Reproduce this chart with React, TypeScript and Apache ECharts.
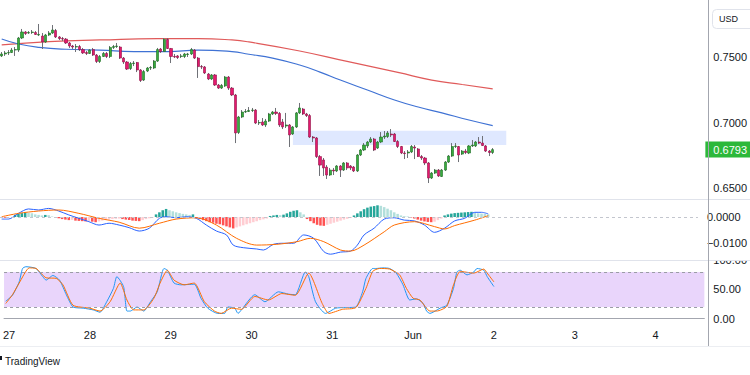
import React, { useEffect, useRef } from 'react';
import * as echarts from 'echarts';

// ---------- data ----------
const dayLabels = ['27', '28', '29', '30', '31', 'Jun', '2', '3', '4'];
const firstDaySlot = 1;
const hoursPerDay = 24;
const totalSlots = 208;

const opens = [
  0.7508,0.7523,0.7531,0.7534,0.7553,0.7553,0.7645,0.7691,0.7683,0.7687,
  0.7687,0.7668,0.7660,0.7615,0.7668,0.7683,0.7702,0.7653,0.7641,0.7637,
  0.7607,0.7584,0.7576,0.7580,0.7557,0.7534,0.7527,0.7557,0.7515,0.7466,
  0.7504,0.7527,0.7504,0.7573,0.7580,0.7576,0.7492,0.7462,0.7412,0.7450,
  0.7458,0.7401,0.7324,0.7393,0.7416,0.7416,0.7469,0.7561,0.7542,0.7634,
  0.7565,0.7504,0.7508,0.7504,0.7504,0.7519,0.7523,0.7553,0.7492,0.7427,
  0.7424,0.7370,0.7332,0.7363,0.7286,0.7263,0.7279,0.7347,0.7263,0.7210,
  0.6924,0.7042,0.7080,0.7084,0.7092,0.7095,0.6996,0.7004,0.6981,0.7011,
  0.7065,0.7080,0.7069,0.7004,0.6973,0.6981,0.6912,0.6966,0.7073,0.7103,
  0.7065,0.7053,0.6889,0.6882,0.6740,0.6714,0.6660,0.6599,0.6637,0.6630,
  0.6668,0.6637,0.6691,0.6668,0.6660,0.6630,0.6752,0.6790,0.6821,0.6851,
  0.6874,0.6805,0.6851,0.6889,0.6893,0.6912,0.6912,0.6855,0.6817,0.6767,
  0.6767,0.6775,0.6813,0.6798,0.6740,0.6729,0.6691,0.6576,0.6614,0.6637,
  0.6588,0.6637,0.6698,0.6744,0.6817,0.6817,0.6759,0.6782,0.6767,0.6821,
  0.6821,0.6851,0.6843,0.6821,0.6782,0.6771,
];
const closes = [
  0.7523,0.7531,0.7534,0.7553,0.7557,0.7645,0.7691,0.7679,0.7687,0.7691,
  0.7672,0.7672,0.7615,0.7668,0.7683,0.7706,0.7653,0.7641,0.7637,0.7607,
  0.7584,0.7576,0.7580,0.7557,0.7531,0.7527,0.7553,0.7515,0.7466,0.7504,
  0.7527,0.7504,0.7573,0.7580,0.7584,0.7492,0.7462,0.7408,0.7450,0.7454,
  0.7401,0.7321,0.7389,0.7416,0.7420,0.7469,0.7557,0.7542,0.7634,0.7565,
  0.7504,0.7500,0.7496,0.7508,0.7523,0.7523,0.7557,0.7492,0.7427,0.7424,
  0.7378,0.7332,0.7363,0.7286,0.7263,0.7283,0.7347,0.7263,0.7210,0.6920,
  0.7042,0.7080,0.7084,0.7092,0.7095,0.6996,0.7000,0.6981,0.7011,0.7065,
  0.7080,0.7069,0.6981,0.6966,0.6981,0.6905,0.6966,0.7073,0.7111,0.7065,
  0.7053,0.6889,0.6882,0.6740,0.6675,0.6653,0.6599,0.6637,0.6630,0.6668,
  0.6637,0.6691,0.6653,0.6653,0.6630,0.6752,0.6790,0.6828,0.6851,0.6874,
  0.6790,0.6851,0.6889,0.6897,0.6920,0.6905,0.6855,0.6817,0.6767,0.6763,
  0.6775,0.6817,0.6805,0.6740,0.6729,0.6691,0.6576,0.6614,0.6637,0.6592,
  0.6637,0.6698,0.6744,0.6817,0.6821,0.6752,0.6782,0.6771,0.6821,0.6828,
  0.6851,0.6843,0.6824,0.6782,0.6771,0.6793,
];
const highs = [
  0.7538,0.7546,0.7553,0.7569,0.7576,0.7653,0.7714,0.7698,0.7698,0.7706,
  0.7698,0.7752,0.7683,0.7676,0.7698,0.7744,0.7714,0.7660,0.7653,0.7645,
  0.7615,0.7592,0.7599,0.7592,0.7569,0.7546,0.7561,0.7569,0.7523,0.7515,
  0.7538,0.7538,0.7584,0.7592,0.7607,0.7584,0.7500,0.7469,0.7462,0.7469,
  0.7462,0.7408,0.7401,0.7424,0.7431,0.7477,0.7569,0.7569,0.7645,0.7645,
  0.7569,0.7523,0.7515,0.7523,0.7531,0.7531,0.7569,0.7561,0.7500,0.7439,
  0.7431,0.7378,0.7370,0.7370,0.7294,0.7294,0.7355,0.7355,0.7271,0.7218,
  0.7050,0.7095,0.7103,0.7118,0.7111,0.7103,0.7019,0.7034,0.7027,0.7073,
  0.7088,0.7111,0.7080,0.7027,0.7073,0.6988,0.6973,0.7080,0.7149,0.7111,
  0.7073,0.7065,0.6897,0.6889,0.6752,0.6729,0.6675,0.6653,0.6653,0.6675,
  0.6675,0.6698,0.6698,0.6675,0.6668,0.6759,0.6798,0.6843,0.6859,0.6889,
  0.6882,0.6859,0.6927,0.6935,0.6935,0.6950,0.6920,0.6866,0.6821,0.6782,
  0.6790,0.6828,0.6828,0.6805,0.6752,0.6737,0.6698,0.6622,0.6645,0.6645,
  0.6645,0.6706,0.6752,0.6843,0.6843,0.6821,0.6790,0.6798,0.6828,0.6866,
  0.6859,0.6889,0.6897,0.6828,0.6790,0.6805,
];
const lows = [
  0.7500,0.7508,0.7515,0.7531,0.7508,0.7538,0.7637,0.7668,0.7676,0.7676,
  0.7668,0.7660,0.7561,0.7607,0.7660,0.7676,0.7645,0.7630,0.7622,0.7599,
  0.7569,0.7561,0.7538,0.7546,0.7523,0.7515,0.7523,0.7508,0.7454,0.7454,
  0.7500,0.7492,0.7492,0.7561,0.7569,0.7485,0.7447,0.7401,0.7401,0.7431,
  0.7385,0.7309,0.7317,0.7385,0.7401,0.7408,0.7462,0.7531,0.7538,0.7561,
  0.7454,0.7492,0.7485,0.7492,0.7492,0.7500,0.7515,0.7485,0.7340,0.7408,
  0.7370,0.7324,0.7324,0.7279,0.7256,0.7256,0.7271,0.7248,0.7202,0.6843,
  0.6912,0.7034,0.7073,0.7080,0.7080,0.6988,0.6981,0.6973,0.6966,0.7004,
  0.7057,0.7057,0.6966,0.6950,0.6958,0.6813,0.6905,0.6958,0.7065,0.7057,
  0.7042,0.6882,0.6851,0.6729,0.6592,0.6592,0.6569,0.6592,0.6599,0.6622,
  0.6584,0.6630,0.6637,0.6637,0.6622,0.6622,0.6744,0.6782,0.6805,0.6843,
  0.6782,0.6798,0.6843,0.6874,0.6882,0.6889,0.6851,0.6805,0.6759,0.6721,
  0.6729,0.6767,0.6721,0.6737,0.6714,0.6675,0.6538,0.6569,0.6607,0.6584,
  0.6584,0.6630,0.6691,0.6737,0.6805,0.6698,0.6752,0.6759,0.6759,0.6813,
  0.6813,0.6836,0.6821,0.6775,0.6744,0.6759,
];

// moving averages [slot, price]
const redMA = [
  [0,0.7592],[14,0.7617],[29,0.7630],[46,0.7640],[58,0.7640],[68,0.7630],[73,0.7615],
  [88,0.7546],[102,0.7466],[117,0.7382],[127,0.7324],[136,0.7290],[145,0.7256],
];
const blueMA = [
  [0,0.7637],[5,0.7599],[11,0.7574],[19,0.7559],[29,0.7553],[39,0.7541],[49,0.7541],
  [58,0.7553],[68,0.7541],[73,0.7521],[80,0.7492],[88,0.7439],[94,0.7385],[100,0.7324],
  [108,0.7248],[116,0.7172],[123,0.7118],[130,0.7073],[138,0.7019],[145,0.6976],
];

// supply zone
const zoneFrom = '86';
const zoneTo = '149';
const zoneHigh = 0.6937;
const zoneLow = 0.6828;

// MACD
const macdLine = [
  [0,-0.0008],[2,-0.0008],[5,0.0014],[8,0.0031],[11,0.0027],[14,0.0033],[17,0.0023],[20,0.0008],
  [23,-0.0005],[26,-0.0018],[29,-0.0031],[32,-0.0024],[35,-0.0031],[38,-0.0041],[41,-0.0054],
  [44,-0.0043],[47,-0.0005],[49,0.0001],[52,-0.0003],[55,0.0001],[58,-0.0005],[61,-0.0031],
  [64,-0.0054],[67,-0.0069],[69,-0.0108],[72,-0.0118],[76,-0.0123],[78,-0.0127],[81,-0.0105],
  [84,-0.0101],[87,-0.0101],[90,-0.0069],[93,-0.0082],[96,-0.0133],[98,-0.0143],[101,-0.0135],
  [104,-0.0131],[106,-0.0108],[108,-0.0069],[111,-0.0043],[114,-0.0008],[117,-0.0003],
  [120,-0.0012],[123,-0.0015],[126,-0.0031],[129,-0.0059],[132,-0.0043],[135,-0.0015],
  [138,-0.0005],[141,0.0018],[143,0.0018],[145,0.0012],
];
const signalLine = [
  [0,0.0001],[5,0.0014],[11,0.0023],[17,0.0027],[23,0.0014],[29,-0.0005],[35,-0.0020],
  [41,-0.0043],[47,-0.0024],[52,-0.0008],[58,-0.0003],[64,-0.0031],[70,-0.0082],[76,-0.0108],
  [82,-0.0105],[88,-0.0095],[92,-0.0082],[96,-0.0095],[101,-0.0127],[104,-0.0131],[108,-0.0108],
  [114,-0.0057],[117,-0.0031],[123,-0.0018],[129,-0.0037],[132,-0.0046],[135,-0.0033],
  [141,-0.0012],[145,0.0005],
];
const histogram = [
  -0.0002,-0.0003,-0.0002,-0.0001,
  0.0008,0.0012,0.0015,0.0017,0.0016,0.0014,
  0.0010,0.0008,0.0006,0.0008,0.0007,
  0.0002,-0.0002,
  -0.0005,-0.0008,-0.0010,-0.0012,-0.0011,-0.0014,-0.0015,-0.0016,-0.0017,-0.0015,-0.0018,-0.0020,-0.0017,
  -0.0014,-0.0012,-0.0010,-0.0008,-0.0007,-0.0006,
  -0.0008,-0.0010,-0.0012,-0.0014,-0.0015,-0.0016,
  -0.0012,-0.0008,-0.0005,-0.0002,
  0.0010,0.0018,0.0026,0.0031,
  0.0026,0.0022,0.0018,0.0015,0.0012,0.0010,0.0008,
  0.0010,
  -0.0004,-0.0008,-0.0012,-0.0016,-0.0020,-0.0022,-0.0026,-0.0028,-0.0032,-0.0036,-0.0040,
  -0.0044,
  -0.0040,-0.0036,-0.0032,-0.0028,-0.0024,-0.0020,-0.0016,-0.0012,-0.0009,-0.0006,
  0.0004,0.0006,0.0008,0.0007,0.0009,
  0.0014,0.0020,0.0024,0.0026,
  0.0018,0.0010,
  -0.0008,-0.0016,-0.0024,
  -0.0030,-0.0033,-0.0034,-0.0030,
  -0.0026,-0.0022,-0.0018,-0.0014,-0.0010,-0.0007,-0.0004,
  0.0006,0.0014,0.0022,0.0030,0.0036,0.0040,
  0.0042,0.0045,0.0043,
  0.0038,0.0032,0.0026,0.0018,0.0012,
  0.0006,0.0003,0.0002,-0.0002,
  -0.0006,-0.0010,-0.0014,-0.0017,-0.0019,-0.0020,-0.0018,
  -0.0012,-0.0006,
  0.0006,0.0010,0.0013,0.0015,0.0016,0.0017,0.0018,0.0019,0.0020,
  0.0016,0.0014,0.0013,0.0012,0.0010,
];

// Stochastic
const stochK = [
  [0,30],[2,40],[4,63],[5,86],[6,89],[9,86],[11,72],[12,66],[14,74],[16,66],[18,41],[20,20],
  [23,18],[26,15],[28,11],[30,29],[32,52],[33,72],[35,55],[36,13],[37,13],[39,20],[41,13],
  [43,29],[45,46],[47,86],[48,83],[50,61],[52,58],[56,59],[58,35],[60,18],[63,9],[65,9],
  [66,20],[68,18],[69,9],[70,15],[74,41],[77,29],[81,46],[84,42],[86,41],[89,80],[90,72],
  [92,29],[95,9],[98,18],[101,19],[104,20],[106,46],[107,69],[109,86],[110,86],[112,87],
  [114,86],[116,78],[118,58],[120,32],[122,34],[124,26],[125,13],[126,9],[129,18],[131,23],
  [133,52],[134,80],[135,83],[137,75],[139,80],[140,86],[142,83],[143,72],[145,55],
];
const stochD = [
  [0,26],[2,41],[4,61],[7,87],[9,86],[12,70],[15,69],[17,58],[20,23],[25,18],[28,13],[31,29],
  [34,61],[36,32],[38,15],[41,15],[44,35],[46,63],[48,83],[50,66],[53,58],[56,61],[59,29],
  [62,13],[64,9],[67,18],[70,16],[74,38],[78,32],[82,43],[86,40],[90,78],[94,26],[96,9],
  [100,16],[104,19],[107,52],[109,81],[111,86],[114,85],[117,75],[119,52],[121,35],[123,32],
  [126,13],[128,13],[131,21],[133,58],[135,81],[139,78],[142,85],[143,78],[145,63],
];
const stochUpper = 80;
const stochLower = 20;

// ---------- styles ----------
const FONT = "'Liberation Sans', Arial, sans-serif";
const TEXT = '#131722';
const UP = '#37ad3c';
const UP_BORDER = '#1f6b25';
const DOWN = '#e5196e';
const DOWN_BORDER = '#8f1045';
const WICK = '#6f7177';

export default function App() {
  const ref = useRef<HTMLDivElement>(null);

  useEffect(() => {
    if (!ref.current) return;
    const chart = echarts.init(ref.current, null, { renderer: 'svg' });

    const categories = Array.from({ length: totalSlots }, (_, i) => String(i));
    const isDayStart = (i: number) => i >= firstDaySlot && (i - firstDaySlot) % hoursPerDay === 0;

    const candleData = opens.map((o, i) => [o, closes[i], lows[i], highs[i]]);
    const bodyData = opens.map((o, i) => [o, closes[i], Math.min(o, closes[i]), Math.max(o, closes[i])]);
    const histData = histogram.map((v, i) => {
      const prev = i > 0 ? histogram[i - 1] : 0;
      let color;
      if (v >= 0) color = v >= prev ? '#26a69a' : '#b2dfdb';
      else color = v < prev ? '#ff5252' : '#ffcdd2';
      return { value: v, itemStyle: { color } };
    });
    const lastClose = closes[closes.length - 1];

    const hiddenX = (gridIndex: number) => ({
      type: 'category', gridIndex, data: categories, boundaryGap: true, show: false,
    });
    const yBase = {
      type: 'value', position: 'right',
      splitLine: { show: false }, axisLine: { show: false }, axisTick: { show: false },
    };
    const labelStyle = { color: TEXT, fontSize: 11, fontFamily: FONT, margin: 9 };

    const option: any = {
      animation: false,
      textStyle: { fontFamily: FONT },
      grid: [
        { left: 0, right: 42, top: 4.6, height: 196.5 },
        { left: 0, right: 42, top: 198.8, height: 59.8 },
        { left: 0, right: 42, top: 260.3, height: 60.7 },
      ],
      xAxis: [
        hiddenX(0),
        hiddenX(1),
        {
          type: 'category', gridIndex: 2, data: categories, boundaryGap: true,
          axisLine: { show: true, lineStyle: { color: '#a3a6af', width: 1 } },
          axisTick: { show: false },
          splitLine: { show: false },
          axisLabel: {
            color: TEXT, fontSize: 11, fontFamily: FONT, margin: 8,
            interval: (i: number) => isDayStart(i),
            formatter: (_v: string, i: number) =>
              isDayStart(i) ? dayLabels[(i - firstDaySlot) / hoursPerDay] || '' : '',
          },
        },
      ],
      yAxis: [
        {
          ...yBase, gridIndex: 0, min: 0.64, max: 0.79, interval: 0.01,
          axisLabel: {
            ...labelStyle,
            formatter: (v: number) => {
              const k = Math.round(v * 100);
              return k % 5 === 0 ? (k / 100).toFixed(4) : '';
            },
          },
        },
        {
          ...yBase, gridIndex: 1, min: -0.016, max: 0.007, interval: 0.001,
          axisLabel: {
            ...labelStyle,
            formatter: (v: number) => {
              const k = Math.round(v * 1000);
              if (k === 0) return '0.0000';
              if (k === -10) return '\u22120.0100';
              return '';
            },
          },
        },
        {
          ...yBase, gridIndex: 2, min: -4, max: 100, interval: 2,
          axisLabel: {
            ...labelStyle,
            formatter: (v: number) => {
              const k = Math.round(v);
              return k === 0 || k === 50 || k === 100 ? k.toFixed(2) : '';
            },
          },
        },
      ],
      series: [
        {
          type: 'line', xAxisIndex: 0, yAxisIndex: 0, data: redMA, smooth: true,
          showSymbol: false, z: 1, lineStyle: { color: '#e05a5a', width: 1.2 },
        },
        {
          type: 'line', xAxisIndex: 0, yAxisIndex: 0, data: blueMA, smooth: true,
          showSymbol: false, z: 1, lineStyle: { color: '#3f72d4', width: 1.2 },
        },
        {
          type: 'candlestick', xAxisIndex: 0, yAxisIndex: 0, data: candleData, barWidth: 1,
          z: 2,
          itemStyle: { color: WICK, color0: WICK, borderColor: WICK, borderColor0: WICK, borderWidth: 1 },
          markArea: {
            silent: true,
            itemStyle: { color: 'rgba(41,98,255,0.15)' },
            data: [[{ xAxis: zoneFrom, yAxis: zoneHigh }, { xAxis: zoneTo, yAxis: zoneLow }]],
          },
        },
        {
          type: 'candlestick', xAxisIndex: 0, yAxisIndex: 0, data: bodyData, barWidth: 2.6,
          z: 3,
          itemStyle: {
            color: UP, color0: DOWN, borderColor: UP_BORDER, borderColor0: DOWN_BORDER, borderWidth: 0.6,
          },
        },
        {
          type: 'line', xAxisIndex: 0, yAxisIndex: 0, data: [], z: 5,
          markLine: {
            silent: true, symbol: 'none', precision: 4,
            lineStyle: { color: 'rgba(0,0,0,0)', width: 0 },
            label: {
              show: true, position: 'end', distance: 1, opacity: 1,
              formatter: lastClose.toFixed(4),
              backgroundColor: '#2cb83a', color: '#ffffff', fontSize: 11, fontFamily: FONT,
              padding: [3, 8, 2, 8], lineHeight: 11,
            },
            data: [{ yAxis: lastClose }],
          },
        },
        {
          type: 'bar', xAxisIndex: 1, yAxisIndex: 1, data: histData, barWidth: '75%', z: 1,
        },
        {
          type: 'line', xAxisIndex: 1, yAxisIndex: 1, data: macdLine, smooth: 0.3,
          showSymbol: false, z: 3, lineStyle: { color: '#2962ff', width: 1 },
          markLine: {
            silent: true, symbol: 'none', label: { show: false },
            lineStyle: { color: '#c3c6ce', type: [3, 3], width: 1 },
            data: [{ yAxis: 0 }],
          },
        },
        {
          type: 'line', xAxisIndex: 1, yAxisIndex: 1, data: signalLine, smooth: 0.3,
          showSymbol: false, z: 3, lineStyle: { color: '#ff6d00', width: 1 },
        },
        {
          type: 'line', xAxisIndex: 2, yAxisIndex: 2, data: stochK, smooth: 0.2,
          showSymbol: false, z: 3, lineStyle: { color: '#2196f3', width: 1 },
          markArea: {
            silent: true,
            itemStyle: { color: '#e9d5fb' },
            data: [[{ yAxis: stochLower }, { yAxis: stochUpper }]],
          },
          markLine: {
            silent: true, symbol: 'none', label: { show: false },
            lineStyle: { color: '#9a9ca5', type: [3, 3], width: 1 },
            data: [{ yAxis: stochUpper }, { yAxis: stochLower }],
          },
        },
        {
          type: 'line', xAxisIndex: 2, yAxisIndex: 2, data: stochD, smooth: 0.2,
          showSymbol: false, z: 3, lineStyle: { color: '#ff6d00', width: 1 },
        },
      ],
      graphic: [
        { type: 'rect', z: 100, shape: { x: 709, y: 252.5, width: 41, height: 8 }, style: { fill: '#ffffff' } },
        { type: 'line', z: 101, shape: { x1: 0, y1: 199.5, x2: 750, y2: 199.5 }, style: { stroke: '#e0e3eb', lineWidth: 1 } },
        { type: 'line', z: 101, shape: { x1: 0, y1: 260.5, x2: 750, y2: 260.5 }, style: { stroke: '#e0e3eb', lineWidth: 1 } },
        { type: 'line', z: 101, shape: { x1: 708.5, y1: 0, x2: 708.5, y2: 346 }, style: { stroke: '#a3a6af', lineWidth: 1 } },
        { type: 'line', z: 101, shape: { x1: 0, y1: 346.5, x2: 750, y2: 346.5 }, style: { stroke: '#eceef2', lineWidth: 1 } },
        {
          type: 'rect', z: 101, shape: { x: 712.5, y: 9.5, width: 44, height: 19, r: 4 },
          style: { fill: '#ffffff', stroke: '#e0e3eb', lineWidth: 1 },
        },
        {
          type: 'text', z: 102, x: 719, y: 19,
          style: { text: 'USD', fill: TEXT, fontSize: 9, fontFamily: FONT, verticalAlign: 'middle' },
        },
        { type: 'rect', z: 101, shape: { x: 0, y: 356, width: 2, height: 4 }, style: { fill: TEXT } },
        {
          type: 'text', z: 102, x: 5, y: 361,
          style: { text: 'TradingView', fill: TEXT, fontSize: 10, fontFamily: FONT, verticalAlign: 'middle' },
        },
      ],
    };

    chart.setOption(option);
    return () => chart.dispose();
  }, []);

  return (
    <div
      ref={ref}
      style={{ position: 'fixed', left: 0, top: 0, width: 750, height: 375, background: '#ffffff' }}
    />
  );
}
